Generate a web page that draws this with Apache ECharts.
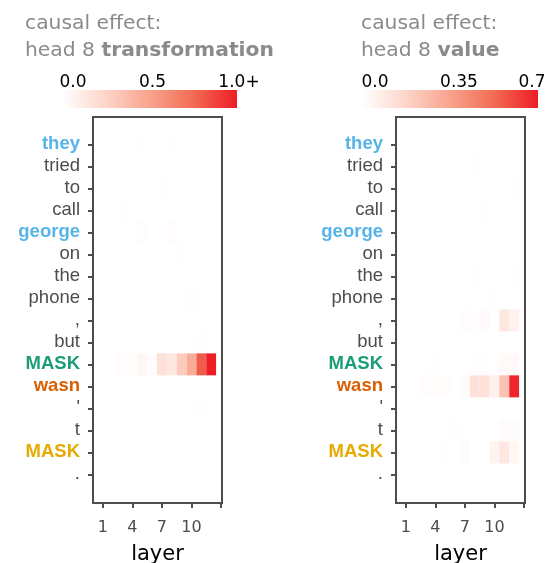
<!DOCTYPE html>
<html><head><meta charset="utf-8">
<script src="https://cdn.jsdelivr.net/npm/echarts@6/dist/echarts.min.js"></script>
<style>html,body{margin:0;padding:0;background:#fff}#c{width:550px;height:563px}</style>
</head><body><div id="c"></div>
<script>
// ---- data ----
const tokens = ['they','tried','to','call','george','on','the','phone',',','but','MASK','wasn',"'",'t','MASK','.'];
const tokenRoles = ['subj','w','w','w','subj','w','w','w','w','w','mask','wasn','w','w','mask2','w'];
const xTickValues = [1,4,7,10,13];
const xTickLabels = [1,4,7,10];
// [layer, tokenIndex, effect]
const transformationEffect = [
  [5,0,0.01],[8,0,0.01],
  [7,2,0.01],
  [3,3,0.01],
  [5,4,0.02],[8,4,0.02],
  [9,5,0.01],
  [10,7,0.01],
  [11,9,0.01],
  [3,10,0.02],[4,10,0.02],[5,10,0.05],[6,10,0.02],[7,10,0.17],[8,10,0.14],[9,10,0.3],[10,10,0.45],[11,10,0.8],[12,10,1.0],
  [11,12,0.01]
];
const valueEffect = [
  [8,1,0.005],
  [12,2,0.005],
  [9,3,0.005],
  [8,6,0.005],[12,6,0.005],
  [10,7,0.005],
  [7,8,0.01],[8,8,0.007],[9,8,0.02],[11,8,0.1],[12,8,0.06],
  [4,10,0.01],[8,10,0.007],[9,10,0.007],[11,10,0.025],[12,10,0.025],
  [3,11,0.012],[4,11,0.012],[5,11,0.012],[7,11,0.015],[8,11,0.12],[9,11,0.12],[10,11,0.06],[11,11,0.24],[12,11,0.68],
  [6,13,0.007],[11,13,0.015],[12,13,0.015],
  [5,14,0.007],[7,14,0.015],[10,14,0.05],[11,14,0.1],[12,14,0.035]
];
const transformationScaleMax = 1.0;
const valueScaleMax = 0.7;
const transformationScaleLabels = ['0.0','0.5','1.0+'];
const valueScaleLabels = ['0.0','0.35','0.7'];

// ---- styling ----
const FONT = 'Liberation Sans';
const FONT2 = 'DejaVu Sans';
const rampColors = ['#ffffff','#fdd5c9','#f8a38d','#f26c53','#ee1c25'];
const roleStyles = {
  w: {color:'#4d4d4d', fontSize:18.5, fontFamily:FONT},
  subj: {color:'#56B4E9', fontSize:18.5, fontWeight:'bold', fontFamily:FONT},
  mask: {color:'#1b9e77', fontSize:18.5, fontWeight:'bold', fontFamily:FONT},
  wasn: {color:'#d95f02', fontSize:18.5, fontWeight:'bold', fontFamily:FONT},
  mask2:{color:'#e6ab02', fontSize:18.5, fontWeight:'bold', fontFamily:FONT}
};
const rowValues = tokens.map((_, i) => i);

function renderCell(params, api) {
  const x = api.value(0), y = api.value(1);
  const p0 = api.coord([x - 0.5, y - 0.5]);
  const p1 = api.coord([x + 0.5, y + 0.5]);
  return {
    type: 'rect',
    shape: {x: Math.min(p0[0], p1[0]), y: Math.min(p0[1], p1[1]),
            width: Math.abs(p1[0] - p0[0]), height: Math.abs(p1[1] - p0[1])},
    style: {fill: api.visual('color')}
  };
}

const grids = [
  {left: 93, top: 117, width: 129, height: 386},
  {left: 396, top: 117, width: 129, height: 386}
].map(g => Object.assign(g, {show: true, borderColor: '#4d4d4d', borderWidth: 2, backgroundColor: 'transparent',
  containLabel: false, outerBoundsMode: 'none'}));

function xAxisFor(i) {
  return {
    gridIndex: i, type: 'value', min: 0, max: 13.1, position: 'bottom',
    axisLine: {show: false, onZero: false}, splitLine: {show: false},
    axisTick: {show: true, customValues: xTickValues, length: 5, lineStyle: {color: '#4d4d4d', width: 2}},
    axisLabel: {customValues: xTickLabels, fontSize: 16, color: '#4d4d4d', fontFamily: FONT2, margin: 17},
    name: 'layer', nameLocation: 'middle', nameGap: 41,
    nameTextStyle: {fontSize: 21, color: '#000', fontFamily: FONT2}
  };
}
function yAxisFor(i) {
  return {
    gridIndex: i, type: 'value', inverse: true, min: -1.24, max: 16.3, position: 'left',
    axisLine: {show: false, onZero: false}, splitLine: {show: false},
    axisTick: {show: true, customValues: rowValues, length: 5, lineStyle: {color: '#4d4d4d', width: 2}},
    axisLabel: {customValues: rowValues, margin: 13,
      formatter: v => '{' + tokenRoles[v] + '|' + tokens[v] + '}',
      rich: roleStyles}
  };
}

function colorbar(x, y, w, h, labels, labelXs) {
  const els = [{
    type: 'rect', left: x, top: y, shape: {width: w, height: h},
    style: {fill: new echarts.graphic.LinearGradient(0, 0, 1, 0,
      rampColors.map((c, i) => ({offset: i / (rampColors.length - 1), color: c})))}
  }];
  labels.forEach((t, i) => {
    els.push({type: 'text', x: labelXs[i], y: y - 7,
      style: {text: t, fill: '#000', fontSize: 17, fontFamily: FONT2, textAlign: 'center', textVerticalAlign: 'middle'}});
  });
  return els;
}

const titleRich = {
  n: {fontSize: 20.3, color: '#8a8a8a', fontFamily: FONT2, fontWeight: 'normal', lineHeight: 27},
  b: {fontSize: 20.3, color: '#8a8a8a', fontFamily: FONT2, fontWeight: 'bold', lineHeight: 27}
};

const chart = echarts.init(document.getElementById('c'), null, {renderer: 'canvas'});
chart.setOption({
  animation: false,
  backgroundColor: '#fff',
  title: [
    {left: 25, top: 10, padding: 0, text: '{n|causal effect:}\n{n|head 8 }{b|transformation}', textStyle: {fontWeight: 'normal', rich: titleRich}},
    {left: 361, top: 10, padding: 0, text: '{n|causal effect:}\n{n|head 8 }{b|value}', textStyle: {fontWeight: 'normal', rich: titleRich}}
  ],
  grid: grids,
  xAxis: [xAxisFor(0), xAxisFor(1)],
  yAxis: [yAxisFor(0), yAxisFor(1)],
  visualMap: [
    {show: false, type: 'continuous', min: 0, max: transformationScaleMax, dimension: 2, seriesIndex: 0, inRange: {color: rampColors}},
    {show: false, type: 'continuous', min: 0, max: valueScaleMax, dimension: 2, seriesIndex: 1, inRange: {color: rampColors}}
  ],
  series: [
    {type: 'custom', xAxisIndex: 0, yAxisIndex: 0, data: transformationEffect, encode: {x: 0, y: 1}, renderItem: renderCell},
    {type: 'custom', xAxisIndex: 1, yAxisIndex: 1, data: valueEffect, encode: {x: 0, y: 1}, renderItem: renderCell}
  ],
  graphic: [].concat(
    colorbar(62, 90, 175, 18, transformationScaleLabels, [73, 152.5, 239]),
    colorbar(362, 90, 176, 18, valueScaleLabels, [375, 459, 532])
  )
});
</script></body></html>
